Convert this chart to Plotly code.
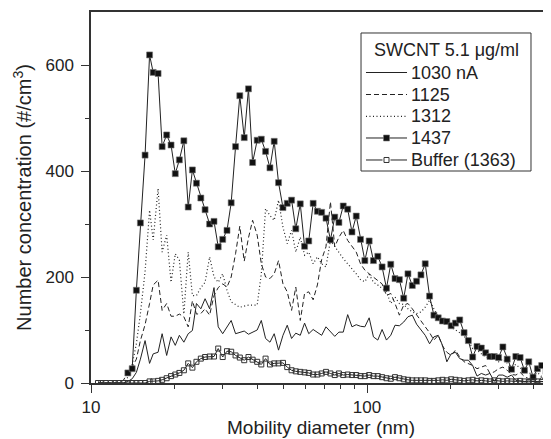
import math
import plotly.graph_objects as go

# SMPS channel midpoints (nm)
diameter_nm = [
    10.6, 10.9, 11.3, 11.8, 12.2, 12.6, 13.1, 13.6, 14.1, 14.6,
    15.1, 15.7, 16.3, 16.8, 17.5, 18.1, 18.8, 19.5, 20.2, 20.9,
    21.7, 22.5, 23.3, 24.1, 25.0, 25.9, 26.9, 27.9, 28.9, 30.0,
    31.1, 32.2, 33.4, 34.6, 35.9, 37.2, 38.5, 40.0, 41.4, 42.9,
    44.5, 46.1, 47.8, 49.6, 51.4, 53.3, 55.2, 57.3, 59.4, 61.5,
    63.8, 66.1, 68.5, 71.0, 73.7, 76.4, 79.1, 82.0, 85.1, 88.2,
    91.4, 94.7, 98.2, 101.8, 105.5, 109.4, 113.4, 117.6, 121.9, 126.3,
    131.0, 135.8, 140.7, 145.9, 151.2, 156.8, 162.5, 168.5, 174.7, 181.1,
    187.7, 194.6, 201.7, 209.1, 216.7, 224.7, 232.9, 241.4, 250.3, 259.5,
    269.0, 278.8, 289.0, 299.6, 310.6, 322.0, 333.8, 346.0, 358.7, 371.8,
    385.4, 399.5, 414.2, 429.4, 445.1, 461.4,
]

conc_1030 = [
    0, 0, 0, 0, 0, 0, 0, 3, 8, 20,
    45, 80, 37, 55, 58, 93, 52, 87, 71, 90,
    77, 93, 99, 150, 140, 159, 140, 180, 106, 93,
    105, 118, 93, 95, 98, 92, 96, 100, 118, 84,
    77, 93, 62, 90, 109, 84, 94, 90, 113, 93,
    101, 95, 90, 106, 96, 88, 96, 96, 129, 106,
    110, 107, 106, 123, 87, 81, 101, 81, 90, 109,
    108, 115, 125, 128, 111, 101, 90, 74, 87, 90,
    71, 40, 55, 58, 46, 43, 43, 33, 13, 18,
    15, 18, 3, 15, 15, 11, 15, 5, 3, 2,
    4, 2, 1, 3, 2, 1,
]

conc_1125 = [
    0, 0, 0, 0, 0, 0, 5, 20, 30, 45,
    80, 110, 150, 185, 194, 137, 150, 126, 126, 130,
    125, 106, 155, 130, 131, 140, 128, 165, 180, 187,
    181, 200, 244, 296, 230, 274, 307, 279, 225, 200,
    197, 206, 231, 187, 172, 137, 181, 118, 169, 172,
    157, 185, 233, 257, 342, 257, 275, 288, 269, 258,
    247, 225, 213, 206, 200, 194, 187, 165, 169, 150,
    128, 147, 150, 140, 128, 118, 106, 95, 81, 90,
    70, 58, 52, 62, 49, 40, 37, 33, 27, 30,
    33, 18, 21, 27, 30, 24, 16, 15, 20, 12,
    8, 12, 6, 10, 5, 3,
]

conc_1312 = [
    0, 0, 0, 0, 0, 0, 0, 11, 35, 74,
    131, 210, 326, 270, 367, 247, 279, 190, 244, 232,
    130, 247, 165, 165, 180, 190, 238, 200, 190, 206,
    175, 153, 148, 143, 145, 147, 147, 147, 206, 329,
    316, 307, 345, 294, 263, 288, 247, 275, 241, 247,
    225, 238, 225, 219, 269, 257, 247, 235, 225, 216,
    206, 195, 191, 205, 190, 185, 178, 172, 150, 162,
    150, 148, 140, 134, 131, 134, 143, 156, 140, 125,
    115, 118, 105, 100, 95, 88, 80, 65, 62, 55,
    50, 45, 48, 40, 45, 38, 30, 35, 28, 25,
    20, 15, 20, 12, 15, 8,
]

conc_1437 = [
    None, None, None, None, None, None, None, 19, 27, 175,
    302, 430, 619, 586, 584, 446, 468, 449, 395, 421,
    457, 332, 402, 377, 349, 327, 300, 305, 257, 271,
    288, 340, 446, 542, 463, 555, 416, 458, 460, 437,
    406, 456, 378, 331, 339, 345, 291, 338, 258, 268,
    339, 324, 322, 311, 270, 313, 303, 334, 328, 285,
    315, 271, 231, 268, 231, 239, 219, 179, 224, 197,
    195, 160, 206, 184, 192, 204, 225, 164, 128, 123,
    117, 116, 108, 113, 119, 95, 80, 49, 69, 66,
    57, 50, 50, 48, 68, 45, 26, 50, 48, 24,
    40, 11, 27, 33, 22, 8,
]

conc_buffer = [
    0, 0, 0, 0, 0, 0, 0, 0, 0, 0,
    0, 0, 3, 3, 4, 6, 9, 13, 16, 19,
    24, 37, 29, 40, 46, 49, 50, 50, 65, 49,
    60, 59, 52, 48, 43, 49, 44, 40, 35, 46,
    35, 37, 37, 38, 30, 24, 22, 21, 20, 19,
    16, 16, 18, 21, 18, 15, 18, 15, 16, 15,
    15, 13, 13, 15, 13, 13, 11, 9, 8, 11,
    9, 7, 6, 5, 5, 5, 5, 4, 4, 5,
    6, 5, 7, 6, 5, 4, 5, 6, 4, 5,
    4, 3, 5, 4, 3, 4, 3, 3, 4, 3,
    2, 3, 3, 2, 3, 2,
]

legend_title = "SWCNT 5.1 μg/ml"
legend_labels = ["1030 nA", "1125", "1312", "1437", "Buffer (1363)"]

INK = "#222222"
AXIS = "#333333"
FONT = "Liberation Sans, Arial, Helvetica, sans-serif"

styles = [
    dict(line=dict(color=INK, width=1), marker=None),
    dict(line=dict(color=INK, width=1, dash="5px,3px"), marker=None),
    dict(line=dict(color=INK, width=1.2, dash="1px,2.5px"), marker=None),
    dict(line=dict(color=INK, width=1),
         marker=dict(symbol="square", size=6, color="#111111",
                     line=dict(color="#777777", width=0.6))),
    dict(line=dict(color=INK, width=1),
         marker=dict(symbol="square-open", size=5, color="#333333",
                     line=dict(width=1))),
]
series = [conc_1030, conc_1125, conc_1312, conc_1437, conc_buffer]

fig = go.Figure()
for label, values, st in zip(legend_labels, series, styles):
    fig.add_trace(go.Scatter(
        x=diameter_nm, y=values, name=label,
        mode="lines+markers" if st["marker"] else "lines",
        line=st["line"],
        marker=st["marker"] or {},
        showlegend=False,
    ))

# hand-drawn legend box (plotly's own legend rows are too tall for this layout)
box = dict(x0=0.587, x1=0.9565, y0=0.5714, y1=0.9434)
row_y = [0.8369, 0.7776, 0.7189, 0.6604, 0.6011]
sample_x0, sample_x1, text_x = 0.5978, 0.6870, 0.6913
sample_mid = (sample_x0 + sample_x1) / 2

shapes = [dict(type="rect", xref="paper", yref="paper", **box,
               line=dict(color=AXIS, width=1), fillcolor="white", layer="above")]
annotations = [dict(text=legend_title, xref="paper", yref="paper",
                    x=(box["x0"] + box["x1"]) / 2, y=0.8976,
                    xanchor="center", yanchor="middle", showarrow=False,
                    font=dict(family=FONT, size=18, color=INK))]

for label, yy, st in zip(legend_labels, row_y, styles):
    ln = st["line"]
    shapes.append(dict(type="line", xref="paper", yref="paper",
                       x0=sample_x0, x1=sample_x1, y0=yy, y1=yy, layer="above",
                       line=dict(color=ln["color"], width=ln["width"],
                                 dash=ln.get("dash", "solid"))))
    if st["marker"]:
        half = st["marker"]["size"] / 2
        filled = st["marker"]["symbol"] == "square"
        shapes.append(dict(type="rect", xref="paper", yref="paper",
                           xsizemode="pixel", ysizemode="pixel",
                           xanchor=sample_mid, yanchor=yy,
                           x0=-half - (0 if filled else 1.5),
                           x1=half + (0 if filled else 1.5),
                           y0=-half, y1=half, layer="above",
                           fillcolor="#111111" if filled else "white",
                           line=dict(color="white" if not filled else "#777777",
                                     width=0 if not filled else 0.6)))
        if not filled:
            shapes.append(dict(type="rect", xref="paper", yref="paper",
                               xsizemode="pixel", ysizemode="pixel",
                               xanchor=sample_mid, yanchor=yy,
                               x0=-half, x1=half, y0=-half, y1=half,
                               layer="above", fillcolor="white",
                               line=dict(color="#333333", width=1)))
    annotations.append(dict(text=label, xref="paper", yref="paper",
                            x=text_x, y=yy, xanchor="left", yanchor="middle",
                            showarrow=False,
                            font=dict(family=FONT, size=18, color=INK)))

# the page body adds an 8px offset, so the margins are trimmed by that much
fig.update_layout(
    width=551,
    height=439,
    margin=dict(l=83, r=8, t=4, b=64),
    paper_bgcolor="white",
    plot_bgcolor="white",
    font=dict(family=FONT, size=16, color=INK),
    showlegend=False,
    shapes=shapes,
    annotations=annotations,
)

fig.update_xaxes(
    type="log",
    automargin=False,
    range=[1, math.log10(464)],
    tickvals=[10, 100],
    ticktext=["10", "100"],
    ticks="outside", ticklen=8, tickwidth=1.2, tickcolor=AXIS,
    minor=dict(tickvals=[20, 30, 40, 50, 60, 70, 80, 90, 200, 300, 400],
               ticks="outside", ticklen=4, tickwidth=1.2, tickcolor=AXIS,
               showgrid=False),
    showline=True, linecolor=AXIS, linewidth=1.5, mirror=True,
    showgrid=False, zeroline=False,
    tickfont=dict(size=17),
    title=dict(text="Mobility diameter (nm)", font=dict(size=19), standoff=4),
)

fig.update_yaxes(
    automargin=False,
    range=[0, 700],
    tickvals=[0, 200, 400, 600],
    ticks="outside", ticklen=8, tickwidth=1.2, tickcolor=AXIS,
    minor=dict(tickvals=[100, 300, 500], ticks="outside", ticklen=4,
               tickwidth=1.2, tickcolor=AXIS, showgrid=False),
    showline=True, linecolor=AXIS, linewidth=1.5, mirror=False,
    showgrid=False, zeroline=False,
    tickfont=dict(size=17),
    ticklabelstandoff=4,
    title=dict(text="Number concentration (#/cm<sup>3</sup>)",
               font=dict(size=20), standoff=8),
)

fig.write_html("out.html")
